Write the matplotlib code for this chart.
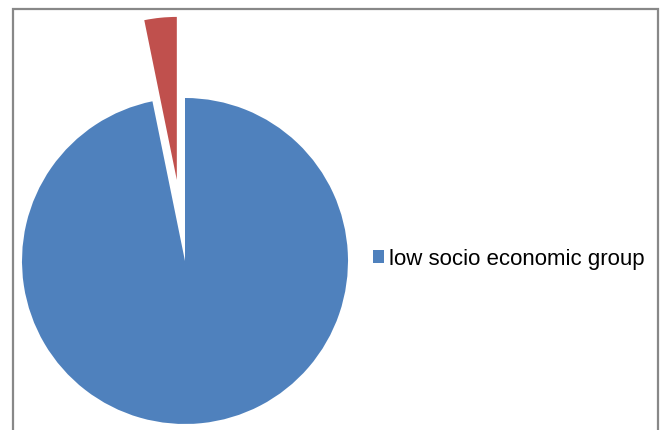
import matplotlib.pyplot as plt
from matplotlib.patches import Rectangle

# data
labels = ['low socio economic group', 'other']
shares = [96.8, 3.2]
colors = ['#4F81BD', '#C0504D']
explode = [0, 0.5]

W, H = 661, 431
fig = plt.figure(figsize=(W / 100, H / 100), dpi=100)
plt.rcParams['font.family'] = ['Liberation Sans', 'DejaVu Sans']

# pie centre (185, 262) px, radius 163 px
cx, cy, r = 185, 262, 163
ax = fig.add_axes([(cx - r) / W, (H - cy - r) / H, 2 * r / W, 2 * r / H])
wedges, _ = ax.pie(shares, colors=colors, explode=explode, startangle=90,
                   counterclock=False, wedgeprops=dict(linewidth=0))
for w in wedges:
    w.set_clip_on(False)
ax.set_xlim(-1, 1)
ax.set_ylim(-1, 1)
ax.set_aspect('equal')
ax.axis('off')

# outer frame
fig.patches.append(Rectangle((13 / W, -0.05), (658 - 13) / W, (H - 10) / H + 0.05,
                             transform=fig.transFigure, fill=False,
                             edgecolor='#888888', linewidth=1.6))

# legend (only the first series is listed)
fig.legend([wedges[0]], [labels[0]], loc='center left',
           bbox_to_anchor=(373 / W, (H - 260) / H), frameon=False,
           fontsize=16, handlelength=0.5, handleheight=0.5,
           handletextpad=0.2, borderaxespad=0, borderpad=0)

fig.savefig('out.png', dpi=100)
